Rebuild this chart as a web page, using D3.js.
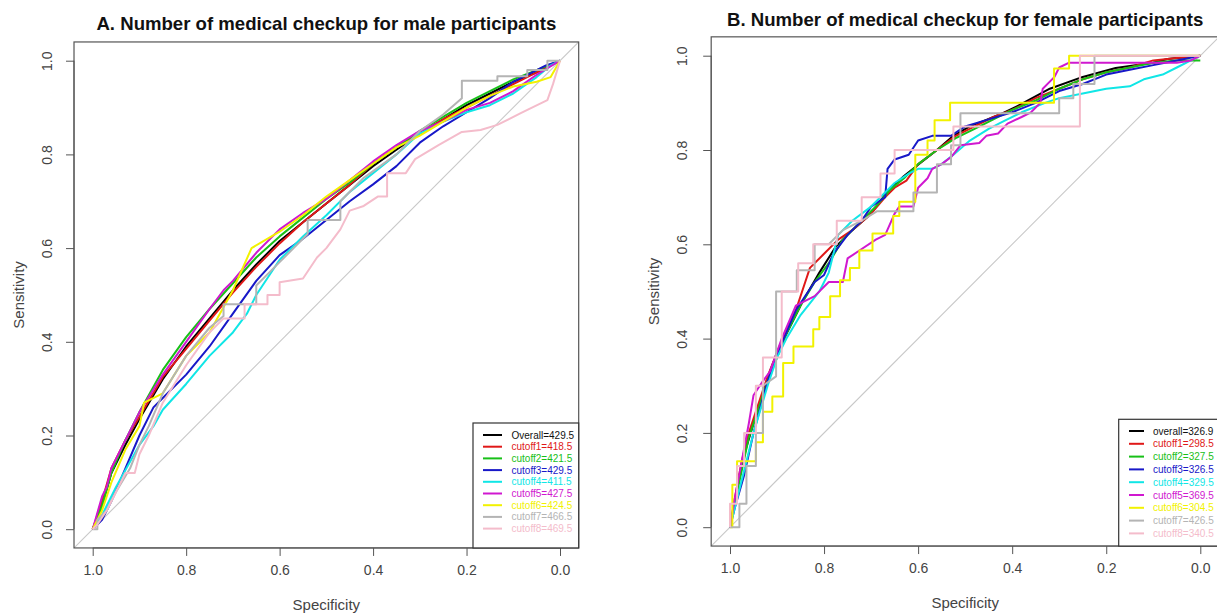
<!DOCTYPE html>
<html><head><meta charset="utf-8">
<script src="https://cdn.jsdelivr.net/npm/d3@7"></script>
<style>
html,body{margin:0;padding:0;background:#fff;}
svg{display:block;font-family:"Liberation Sans",Arial,sans-serif;}
</style></head>
<body>
<svg id="chart" width="1217" height="616"></svg>
<script>
// ---------------- DATA ----------------
const seriesNames = ["overall","cutoff1","cutoff2","cutoff3","cutoff4","cutoff5","cutoff6","cutoff7","cutoff8"];
const seriesColors = ["#000000","#e01818","#18c018","#1818c8","#10e6e6","#d018d0","#f2f200","#b4b4b4","#f4bccb"];
const tickValues = [1.0,0.8,0.6,0.4,0.2,0.0];
const yTickValues = [0.0,0.2,0.4,0.6,0.8,1.0];

const titleA = "A. Number of medical checkup for male participants";
const titleB = "B. Number of medical checkup for female participants";
const legendA = ["Overall=429.5","cutoff1=418.5","cutoff2=421.5","cutoff3=429.5","cutoff4=411.5","cutoff5=427.5","cutoff6=424.5","cutoff7=466.5","cutoff8=469.5"];
const legendB = ["overall=326.9","cutoff1=298.5","cutoff2=327.5","cutoff3=326.5","cutoff4=329.5","cutoff5=369.5","cutoff6=304.5","cutoff7=426.5","cutoff8=340.5"];

// [specificity, sensitivity] — panel A (male)
const maleOverall = [[1,0],[0.98,0.05],[0.96,0.12],[0.93,0.18],[0.9,0.235],[0.85,0.32],[0.8,0.39],[0.75,0.45],[0.7,0.51],[0.65,0.565],[0.6,0.615],[0.55,0.655],[0.5,0.695],[0.45,0.735],[0.4,0.775],[0.35,0.81],[0.3,0.845],[0.25,0.875],[0.2,0.905],[0.15,0.93],[0.1,0.955],[0.05,0.975],[0,1]];
const maleCut1 = [[1,0],[0.98,0.06],[0.96,0.13],[0.93,0.19],[0.9,0.24],[0.85,0.325],[0.8,0.385],[0.75,0.445],[0.7,0.505],[0.65,0.56],[0.6,0.61],[0.55,0.655],[0.5,0.695],[0.45,0.735],[0.4,0.78],[0.35,0.815],[0.3,0.845],[0.25,0.875],[0.2,0.9],[0.15,0.925],[0.1,0.95],[0.05,0.975],[0.02,0.99],[0,1]];
const maleCut2 = [[1,0],[0.98,0.05],[0.96,0.12],[0.93,0.19],[0.9,0.25],[0.85,0.34],[0.8,0.41],[0.75,0.47],[0.7,0.525],[0.65,0.58],[0.6,0.625],[0.55,0.665],[0.5,0.705],[0.45,0.74],[0.4,0.78],[0.35,0.815],[0.3,0.85],[0.25,0.88],[0.2,0.91],[0.15,0.935],[0.1,0.96],[0.05,0.98],[0,1]];
const maleCut3 = [[1,0],[0.98,0.02],[0.96,0.06],[0.93,0.13],[0.9,0.2],[0.87,0.26],[0.85,0.28],[0.8,0.33],[0.75,0.39],[0.7,0.46],[0.65,0.53],[0.6,0.585],[0.55,0.62],[0.5,0.66],[0.45,0.7],[0.4,0.736],[0.35,0.775],[0.3,0.825],[0.25,0.86],[0.2,0.89],[0.15,0.92],[0.1,0.955],[0.05,0.98],[0.03,0.99],[0,1]];
const maleCut4 = [[1,0],[0.98,0.03],[0.95,0.09],[0.9,0.18],[0.87,0.22],[0.85,0.255],[0.8,0.31],[0.75,0.37],[0.7,0.42],[0.67,0.46],[0.65,0.5],[0.6,0.575],[0.55,0.625],[0.5,0.67],[0.45,0.72],[0.4,0.76],[0.35,0.8],[0.3,0.845],[0.25,0.87],[0.2,0.89],[0.15,0.905],[0.1,0.93],[0.05,0.965],[0.02,0.99],[0,1]];
const maleCut5 = [[1,0],[0.98,0.07],[0.97,0.09],[0.96,0.13],[0.93,0.19],[0.9,0.25],[0.85,0.33],[0.8,0.4],[0.75,0.47],[0.72,0.51],[0.7,0.53],[0.65,0.59],[0.6,0.64],[0.55,0.675],[0.5,0.705],[0.45,0.745],[0.4,0.785],[0.35,0.82],[0.3,0.85],[0.25,0.87],[0.2,0.895],[0.15,0.91],[0.1,0.935],[0.05,0.97],[0,1]];
const maleCut6 = [[1,0],[0.98,0.04],[0.96,0.1],[0.93,0.17],[0.9,0.22],[0.89,0.27],[0.85,0.29],[0.8,0.37],[0.75,0.42],[0.7,0.51],[0.66,0.6],[0.6,0.635],[0.55,0.67],[0.5,0.71],[0.45,0.745],[0.4,0.78],[0.35,0.815],[0.3,0.84],[0.25,0.87],[0.2,0.9],[0.15,0.925],[0.1,0.945],[0.05,0.955],[0.02,0.965],[0,1]];
const maleCut7 = [[1,0],[0.99,0],[0.99,0.02],[0.97,0.04],[0.95,0.08],[0.92,0.13],[0.9,0.18],[0.88,0.22],[0.85,0.29],[0.8,0.37],[0.75,0.43],[0.72,0.455],[0.72,0.48],[0.65,0.48],[0.65,0.52],[0.6,0.57],[0.57,0.6],[0.54,0.63],[0.54,0.66],[0.47,0.66],[0.47,0.7],[0.42,0.75],[0.35,0.8],[0.3,0.85],[0.25,0.885],[0.21,0.92],[0.21,0.957],[0.134,0.957],[0.134,0.967],[0.07,0.967],[0.07,0.98],[0.027,0.98],[0.027,1],[0,1]];
const maleCut8 = [[1,0],[0.99,0.01],[0.97,0.04],[0.95,0.08],[0.93,0.12],[0.91,0.12],[0.9,0.16],[0.88,0.2],[0.85,0.27],[0.8,0.35],[0.75,0.42],[0.72,0.45],[0.675,0.45],[0.675,0.48],[0.626,0.48],[0.626,0.5],[0.6,0.5],[0.6,0.527],[0.55,0.535],[0.52,0.58],[0.5,0.6],[0.47,0.64],[0.45,0.68],[0.42,0.69],[0.39,0.71],[0.37,0.71],[0.37,0.76],[0.33,0.76],[0.31,0.79],[0.26,0.82],[0.21,0.848],[0.17,0.852],[0.134,0.863],[0.084,0.888],[0.06,0.9],[0.027,0.916],[0.015,0.95],[0,1]];

// panel B (female)
const femaleOverall = [[1,0],[0.99,0.05],[0.98,0.11],[0.965,0.17],[0.95,0.22],[0.93,0.28],[0.915,0.33],[0.9,0.37],[0.88,0.41],[0.86,0.45],[0.845,0.48],[0.81,0.54],[0.775,0.595],[0.74,0.63],[0.7,0.665],[0.667,0.71],[0.63,0.745],[0.596,0.772],[0.56,0.8],[0.525,0.83],[0.49,0.85],[0.455,0.864],[0.42,0.878],[0.383,0.896],[0.32,0.93],[0.25,0.955],[0.18,0.974],[0.1,0.985],[0.07,0.993],[0,1]];
const femaleCut1 = [[1,0],[0.99,0.06],[0.975,0.14],[0.96,0.2],[0.94,0.26],[0.92,0.32],[0.9,0.37],[0.88,0.42],[0.86,0.46],[0.84,0.52],[0.83,0.55],[0.8,0.58],[0.77,0.61],[0.74,0.63],[0.7,0.665],[0.67,0.7],[0.65,0.72],[0.625,0.735],[0.6,0.77],[0.56,0.8],[0.52,0.83],[0.48,0.85],[0.44,0.87],[0.4,0.885],[0.35,0.91],[0.3,0.93],[0.25,0.95],[0.2,0.965],[0.15,0.975],[0.1,0.99],[0.05,0.995],[0,1]];
const femaleCut2 = [[1,0],[0.99,0.05],[0.975,0.12],[0.96,0.19],[0.94,0.25],[0.92,0.31],[0.9,0.36],[0.88,0.41],[0.85,0.47],[0.82,0.52],[0.79,0.56],[0.76,0.61],[0.72,0.65],[0.69,0.68],[0.66,0.715],[0.63,0.74],[0.6,0.77],[0.56,0.8],[0.52,0.825],[0.48,0.845],[0.44,0.865],[0.4,0.885],[0.35,0.905],[0.3,0.93],[0.25,0.95],[0.2,0.965],[0.15,0.975],[0.1,0.985],[0.05,0.99],[0,0.99]];
const femaleCut3 = [[1,0],[0.99,0.04],[0.97,0.11],[0.95,0.2],[0.92,0.31],[0.89,0.39],[0.86,0.46],[0.84,0.49],[0.82,0.52],[0.8,0.535],[0.78,0.58],[0.75,0.62],[0.72,0.65],[0.7,0.68],[0.67,0.7],[0.665,0.76],[0.65,0.78],[0.62,0.79],[0.6,0.82],[0.57,0.83],[0.53,0.83],[0.5,0.85],[0.45,0.865],[0.4,0.88],[0.35,0.9],[0.3,0.925],[0.25,0.94],[0.2,0.96],[0.15,0.97],[0.1,0.98],[0.05,0.99],[0,1]];
const femaleCut4 = [[1,0],[0.99,0.04],[0.975,0.1],[0.96,0.16],[0.95,0.2],[0.92,0.3],[0.9,0.36],[0.88,0.4],[0.85,0.45],[0.81,0.5],[0.79,0.54],[0.77,0.62],[0.74,0.65],[0.7,0.68],[0.65,0.73],[0.62,0.75],[0.6,0.76],[0.57,0.76],[0.55,0.77],[0.525,0.79],[0.49,0.82],[0.45,0.845],[0.42,0.86],[0.38,0.88],[0.33,0.9],[0.3,0.91],[0.25,0.92],[0.2,0.93],[0.15,0.935],[0.12,0.95],[0.08,0.96],[0.05,0.975],[0.02,0.99],[0,1]];
const femaleCut5 = [[1,0],[0.99,0.06],[0.975,0.14],[0.96,0.22],[0.95,0.28],[0.93,0.31],[0.915,0.33],[0.89,0.4],[0.86,0.47],[0.82,0.49],[0.79,0.52],[0.76,0.52],[0.75,0.57],[0.72,0.59],[0.69,0.61],[0.67,0.62],[0.65,0.665],[0.64,0.68],[0.61,0.68],[0.6,0.72],[0.58,0.74],[0.57,0.76],[0.55,0.77],[0.53,0.785],[0.51,0.81],[0.47,0.815],[0.455,0.83],[0.43,0.835],[0.41,0.856],[0.38,0.87],[0.36,0.88],[0.34,0.9],[0.335,0.93],[0.31,0.955],[0.3,0.975],[0.28,0.985],[0.05,0.985],[0.02,0.99],[0,1]];
const femaleCut6 = [[1,0],[0.995,0],[0.995,0.09],[0.985,0.09],[0.985,0.14],[0.945,0.14],[0.945,0.18],[0.93,0.18],[0.93,0.245],[0.91,0.245],[0.91,0.277],[0.887,0.277],[0.887,0.348],[0.865,0.348],[0.865,0.383],[0.823,0.383],[0.823,0.42],[0.81,0.42],[0.81,0.446],[0.787,0.446],[0.787,0.49],[0.766,0.49],[0.766,0.524],[0.745,0.524],[0.745,0.55],[0.725,0.55],[0.725,0.587],[0.697,0.587],[0.697,0.623],[0.653,0.623],[0.653,0.66],[0.64,0.66],[0.64,0.69],[0.606,0.69],[0.606,0.79],[0.58,0.79],[0.58,0.82],[0.565,0.82],[0.565,0.863],[0.532,0.863],[0.532,0.9],[0.311,0.9],[0.311,0.973],[0.279,0.973],[0.279,1],[0,1]];
const femaleCut7 = [[1,0],[0.98,0],[0.98,0.05],[0.965,0.05],[0.965,0.13],[0.945,0.13],[0.945,0.2],[0.93,0.2],[0.93,0.3],[0.902,0.32],[0.902,0.5],[0.858,0.5],[0.858,0.545],[0.82,0.545],[0.82,0.6],[0.79,0.6],[0.76,0.63],[0.72,0.65],[0.688,0.67],[0.61,0.67],[0.61,0.71],[0.56,0.71],[0.56,0.77],[0.53,0.77],[0.53,0.81],[0.51,0.81],[0.51,0.878],[0.3,0.878],[0.3,0.91],[0.27,0.91],[0.27,0.94],[0.225,0.94],[0.225,1],[0,1]];
const femaleCut8 = [[1,0],[1,0.05],[0.985,0.05],[0.985,0.13],[0.97,0.13],[0.97,0.2],[0.945,0.2],[0.945,0.3],[0.93,0.3],[0.93,0.36],[0.89,0.36],[0.89,0.5],[0.855,0.5],[0.855,0.56],[0.823,0.56],[0.823,0.6],[0.773,0.6],[0.773,0.65],[0.72,0.65],[0.72,0.7],[0.68,0.7],[0.68,0.75],[0.65,0.75],[0.65,0.8],[0.525,0.8],[0.525,0.85],[0.256,0.85],[0.256,1],[0,1]];

const maleSeries = [maleOverall,maleCut1,maleCut2,maleCut3,maleCut4,maleCut5,maleCut6,maleCut7,maleCut8];
const femaleSeries = [femaleOverall,femaleCut1,femaleCut2,femaleCut3,femaleCut4,femaleCut5,femaleCut6,femaleCut7,femaleCut8];

// ---------------- DRAW ----------------
const svg = d3.select("#chart");
const axisColor = "#555";
const textColor = "#444";

function panel(cfg){
  // data range maps to pixel range; the plotting box extends 4% beyond (R style)
  const x = d3.scaleLinear().domain([1,0]).range([cfg.x1, cfg.x0]);
  const y = d3.scaleLinear().domain([0,1]).range([cfg.y0, cfg.y1]);
  const bx0 = x(1.04), bx1 = x(-0.04), by0 = y(1.04), by1 = y(-0.04);
  const g = svg.append("g");
  const clipId = "clip" + cfg.id;
  g.append("clipPath").attr("id", clipId).append("rect")
    .attr("x", bx0).attr("y", by0).attr("width", bx1 - bx0).attr("height", by1 - by0);

  // title
  g.append("text").attr("x", (bx0 + bx1) / 2).attr("y", cfg.titleY)
    .attr("text-anchor", "middle").attr("font-weight", "bold").attr("font-size", 18.6)
    .attr("fill", "#111").text(cfg.title);

  // diagonal reference
  const plot = g.append("g").attr("clip-path", `url(#${clipId})`);
  plot.append("line").attr("x1", x(1.05)).attr("y1", y(-0.05)).attr("x2", x(-0.05)).attr("y2", y(1.05))
    .attr("stroke", "#c8c8c8").attr("stroke-width", 1.1);

  const line = d3.line().x(d => x(d[0])).y(d => y(d[1]));
  cfg.series.forEach((s, i) => {
    plot.append("path").attr("d", line(s)).attr("fill", "none")
      .attr("stroke", seriesColors[i]).attr("stroke-width", 2).attr("stroke-linejoin", "round");
  });

  // axes
  const xAxis = d3.axisBottom(x).tickValues(tickValues).tickSize(8).tickFormat(d3.format(".1f"));
  const xg = g.append("g").attr("transform", `translate(0,${by1})`).call(xAxis);
  xg.select(".domain").attr("d", `M${x(1)},0H${x(0)}`);
  const yAxis = d3.axisLeft(y).tickValues(yTickValues).tickSize(8).tickFormat(d3.format(".1f"));
  const yg = g.append("g").attr("transform", `translate(${bx0},0)`).call(yAxis);
  yg.select(".domain").attr("d", `M0,${y(0)}V${y(1)}`);
  [xg, yg].forEach(a => {
    a.selectAll(".domain").attr("stroke", axisColor);
    a.selectAll(".tick line").attr("stroke", axisColor);
    a.selectAll(".tick text").attr("fill", textColor).attr("font-size", 14)
      .attr("font-family", '"Liberation Sans",Arial,sans-serif');
  });
  xg.selectAll(".tick text").attr("y", 17).attr("dy", "0.71em");
  yg.selectAll(".tick text").attr("x", null).attr("dy", null)
    .attr("text-anchor", "middle")
    .attr("transform", function(){ return `translate(${cfg.yLabX - bx0},0) rotate(-90)`; })
    .attr("y", 5);

  // box
  g.append("rect").attr("x", bx0).attr("y", by0).attr("width", bx1 - bx0).attr("height", by1 - by0)
    .attr("fill", "none").attr("stroke", axisColor).attr("stroke-width", 1.2);

  // axis titles
  g.append("text").attr("x", (bx0 + bx1) / 2).attr("y", cfg.xTitleY).attr("text-anchor", "middle")
    .attr("font-size", 15).attr("fill", textColor).text("Specificity");
  g.append("text").attr("transform", `translate(${cfg.yTitleX},${(by0 + by1) / 2}) rotate(-90)`)
    .attr("text-anchor", "middle").attr("font-size", 15).attr("fill", textColor).text("Sensitivity");

  // legend
  const lg = g.append("g");
  lg.append("rect").attr("x", cfg.legX).attr("y", cfg.legY).attr("width", bx1 - cfg.legX).attr("height", by1 - cfg.legY)
    .attr("fill", "#fff").attr("stroke", "#333").attr("stroke-width", 1.2);
  cfg.legend.forEach((t, i) => {
    const yy = cfg.legRow0 + i * cfg.legStep;
    lg.append("line").attr("x1", cfg.legLine0).attr("x2", cfg.legLine1).attr("y1", yy).attr("y2", yy)
      .attr("stroke", seriesColors[i]).attr("stroke-width", 2);
    lg.append("text").attr("x", cfg.legText).attr("y", yy).attr("dy", "0.35em")
      .attr("font-size", 10).attr("fill", i === 0 ? "#111" : seriesColors[i]).text(t);
  });
}

panel({id:"A", title:titleA, series:maleSeries, legend:legendA,
  x1:92.7, x0:560, y0:529.2, y1:60.7, titleY:30, xTitleY:610, yTitleX:24, yLabX:46.5,
  legX:473, legY:423, legRow0:435, legStep:11.7, legLine0:483, legLine1:502, legText:511.5});
panel({id:"B", title:titleB, series:femaleSeries, legend:legendB,
  x1:730, x0:1200.3, y0:527.2, y1:55.7, titleY:25.5, xTitleY:608, yTitleX:659, yLabX:681.5,
  legX:1118.7, legY:419.3, legRow0:431, legStep:12.8, legLine0:1129, legLine1:1144, legText:1153});
</script>
</body></html>
